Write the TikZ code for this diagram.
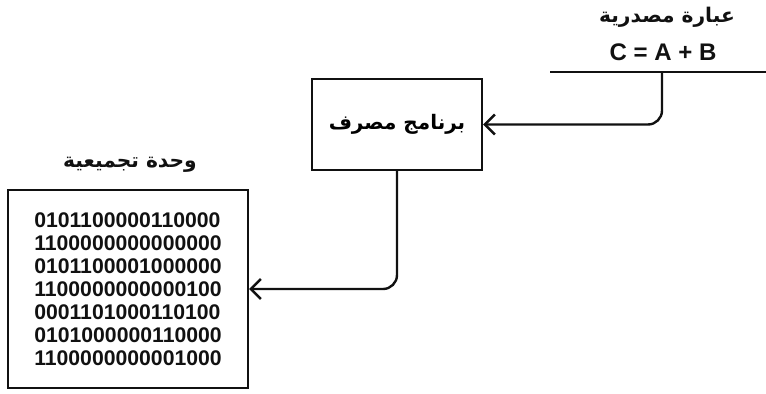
\documentclass[tikz,border=0pt]{standalone}
\usepackage{fontspec}
\setmainfont{Liberation Sans}
\newfontfamily\arabicfont[Script=Arabic]{DejaVu Sans}
\TeXXeTstate=1
\usetikzlibrary{arrows.meta,positioning}
\definecolor{inkblack}{HTML}{111111}
\tikzset{
  unit/.style={draw=inkblack, line width=1.2pt, align=center},
  heading/.style={font=\arabicfont\bfseries\fontsize{10.1}{12}\selectfont, text=inkblack},
  bits/.style={font=\bfseries\fontsize{10.6}{11.5}\selectfont, text=inkblack, align=left},
  flow/.style={-{Straight Barb[length=5pt,width=10pt,line width=1.2pt]},
               line width=1.2pt, draw=inkblack, rounded corners=7pt},
}
\begin{document}
\begin{tikzpicture}
\useasboundingbox (0,0) rectangle (383pt,196.5pt);
% source statement
\node[heading] (srctitle) at (333.5pt,188pt) {\beginR عبارة مصدرية\endR};
\node[font=\bfseries\fontsize{12}{13}\selectfont, text=inkblack] (expr) at (331.5pt,170.5pt) {C = A + B};
\coordinate (ulL) at (275pt,160.5pt);
\coordinate (ulR) at (383pt,160.5pt);
\coordinate (src) at (331pt,160.5pt);
\draw[line width=1.2pt, draw=inkblack] (ulL) -- (ulR);

% translator program
\node[unit, minimum width=85pt, minimum height=45.5pt] (prog) at (198.5pt,134.25pt)
  {\arabicfont\bfseries\fontsize{10}{12}\selectfont\beginR برنامج مصرف\endR};

% assembled unit
\node[heading] (asmtitle) at (65pt,114pt) {\beginR وحدة تجميعية\endR};
\node[unit, minimum width=120pt, minimum height=99pt] (asm) at (64pt,52pt) {};
\node[bits] (code) at (asm.center) {0101100000110000\\1100000000000000\\0101100001000000\\
  1100000000000100\\0001101000110100\\0101000000110000\\1100000000001000};

\draw[flow] (src) |- (prog.east);
\draw[flow] (prog.south) |- (asm.east);
\end{tikzpicture}
\end{document}
